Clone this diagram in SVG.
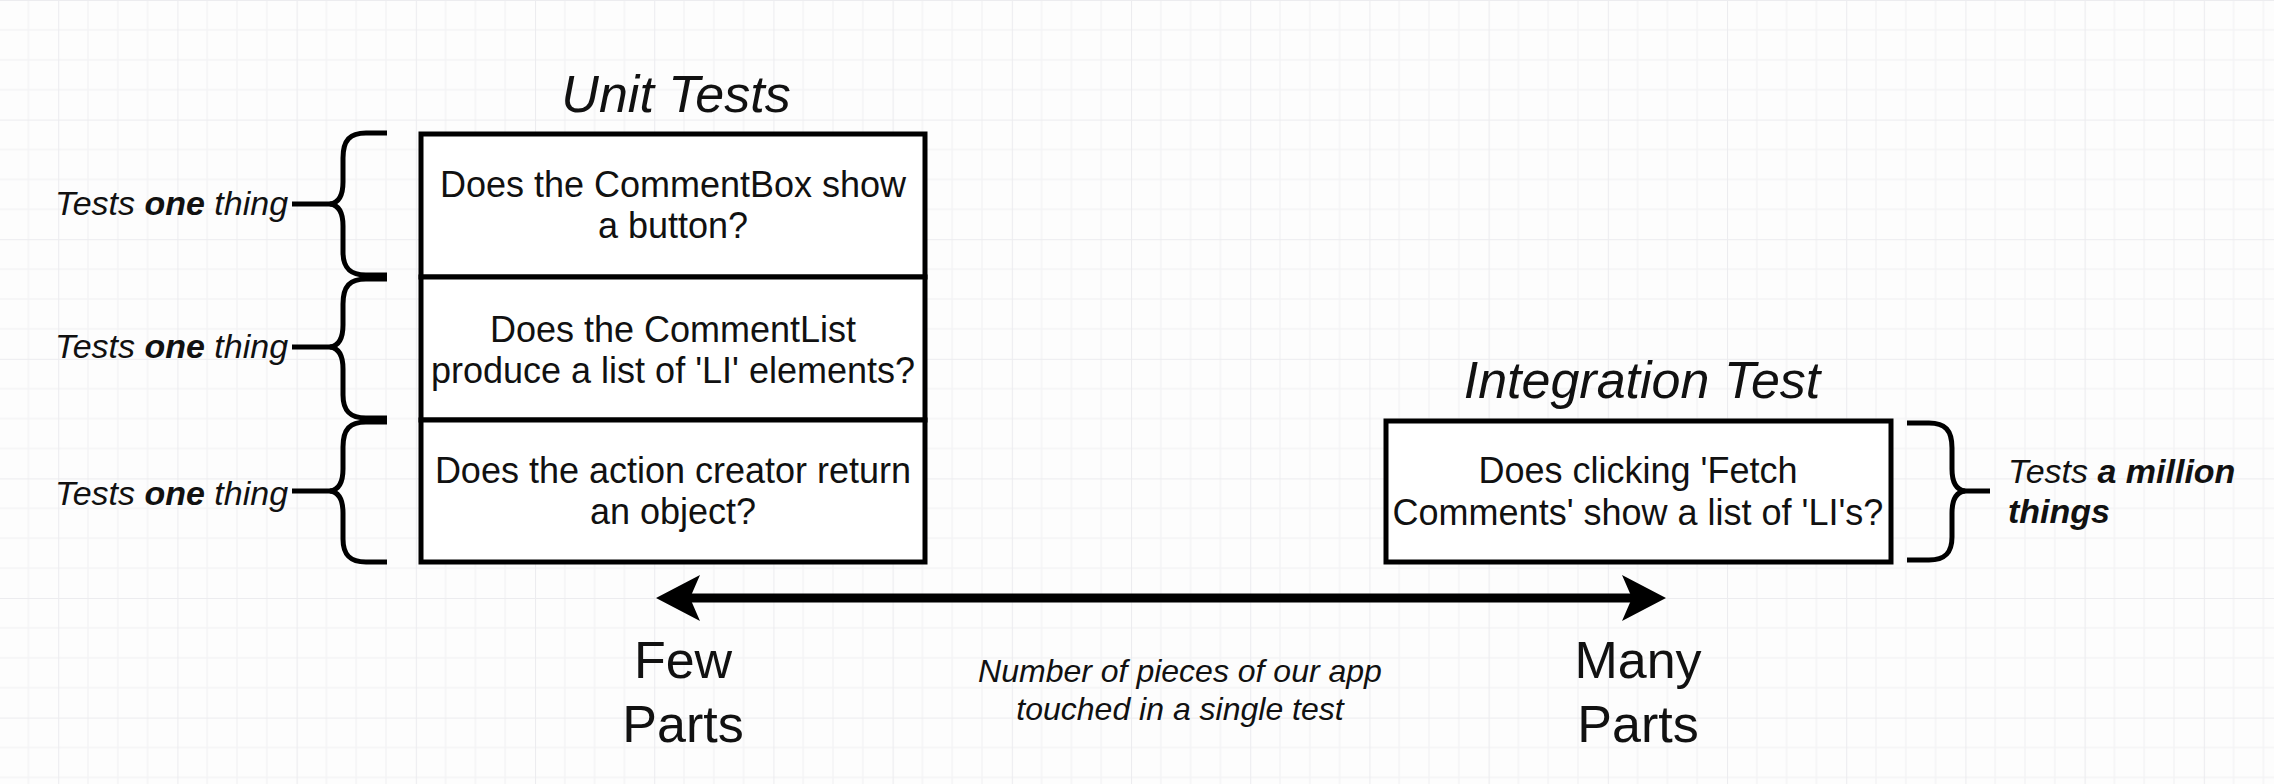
<svg xmlns="http://www.w3.org/2000/svg" width="2274" height="784" viewBox="0 0 2274 784">
<style>
  .t{font-family:"Liberation Sans",Arial,Helvetica,sans-serif;fill:#111}
  .cell{font-size:36px;text-anchor:middle}
  .title{font-size:52px;font-style:italic;text-anchor:middle}
  .side{font-size:34px;font-style:italic}
  .big{font-size:52px;text-anchor:middle}
  .note{font-size:32px;font-style:italic;text-anchor:middle}
  .box{fill:#fff;stroke:#000;stroke-width:5}
  .brace{fill:none;stroke:#000;stroke-width:5;stroke-linecap:butt}
</style>
<defs>
  <pattern id="grid" patternUnits="userSpaceOnUse" x="58.2" y="0" width="119.2" height="119.6">
    <rect width="119.2" height="119.6" fill="#fdfdfd"/>
    <g stroke="#f4f4f6" stroke-width="1.5">
      <line x1="29.8" y1="0" x2="29.8" y2="119.6"/>
      <line x1="59.6" y1="0" x2="59.6" y2="119.6"/>
      <line x1="89.4" y1="0" x2="89.4" y2="119.6"/>
      <line x1="0" y1="29.9" x2="119.2" y2="29.9"/>
      <line x1="0" y1="59.8" x2="119.2" y2="59.8"/>
      <line x1="0" y1="89.7" x2="119.2" y2="89.7"/>
    </g>
    <g stroke="#ececef" stroke-width="2">
      <line x1="0" y1="0" x2="0" y2="119.6"/>
      <line x1="0" y1="0" x2="119.2" y2="0"/>
    </g>
  </pattern>
  <marker id="head" markerUnits="userSpaceOnUse" markerWidth="50" markerHeight="50" viewBox="0 0 50 50" refX="10" refY="23" orient="auto-start-reverse">
    <path d="M0,0 L44,23 L0,46 L10,23 Z" fill="#000"/>
  </marker>
</defs>
<rect width="2274" height="784" fill="url(#grid)"/>

<g id="unit-title"><text class="t title" x="676" y="112">Unit Tests</text></g>

<g id="unit-box-1">
  <rect class="box" x="421" y="134" width="504" height="143"/>
  <text class="t cell" x="673" y="197">Does the CommentBox show</text>
  <text class="t cell" x="673" y="238">a button?</text>
</g>
<g id="unit-box-2">
  <rect class="box" x="421" y="277" width="504" height="143"/>
  <text class="t cell" x="673" y="342">Does the CommentList</text>
  <text class="t cell" x="673" y="383">produce a list of 'LI' elements?</text>
</g>
<g id="unit-box-3">
  <rect class="box" x="421" y="420" width="504" height="142"/>
  <text class="t cell" x="673" y="483">Does the action creator return</text>
  <text class="t cell" x="673" y="524">an object?</text>
</g>

<g id="brace-1">
  <path class="brace" d="M387,133 L366,133 C350,133 343,140 343,158 L343,182 C343,197 338,203 330,204 C338,205 343,211 343,226 L343,252 C343,268 350,275 366,275 L387,275"/>
  <line class="brace" x1="292" y1="204" x2="332" y2="204"/>
  <text class="t side" x="55" y="215">Tests <tspan font-weight="bold">one</tspan> thing</text>
</g>
<g id="brace-2">
  <path class="brace" d="M387,279 L366,279 C350,279 343,286 343,304 L343,325 C343,340 338,346 330,347 C338,348 343,354 343,369 L343,395 C343,411 350,418 366,418 L387,418"/>
  <line class="brace" x1="292" y1="347" x2="332" y2="347"/>
  <text class="t side" x="55" y="358">Tests <tspan font-weight="bold">one</tspan> thing</text>
</g>
<g id="brace-3">
  <path class="brace" d="M387,422 L366,422 C350,422 343,429 343,447 L343,469 C343,484 338,490 330,491 C338,492 343,498 343,513 L343,539 C343,555 350,562 366,562 L387,562"/>
  <line class="brace" x1="292" y1="491" x2="332" y2="491"/>
  <text class="t side" x="55" y="505">Tests <tspan font-weight="bold">one</tspan> thing</text>
</g>

<g id="integration-title"><text class="t title" x="1642" y="398">Integration Test</text></g>

<g id="integration-box">
  <rect class="box" x="1386" y="421" width="505" height="141"/>
  <text class="t cell" x="1638" y="483">Does clicking 'Fetch</text>
  <text class="t cell" x="1638" y="525">Comments' show a list of 'LI's?</text>
</g>

<g id="brace-right">
  <path class="brace" d="M1907,423 L1929,423 C1945,423 1952,430 1952,448 L1952,469 C1952,484 1957,490 1965,491 C1957,492 1952,498 1952,513 L1952,537 C1952,553 1945,560 1929,560 L1907,560"/>
  <line class="brace" x1="1963" y1="491" x2="1990" y2="491"/>
  <text class="t side" x="2008" y="483">Tests <tspan font-weight="bold">a million</tspan></text>
  <text class="t side" x="2008" y="523" font-weight="bold">things</text>
</g>

<g id="connectors">
  <line x1="690" y1="598" x2="1632" y2="598" stroke="#000" stroke-width="9" marker-start="url(#head)" marker-end="url(#head)"/>
</g>

<g id="few-parts">
  <text class="t big" x="683" y="678">Few</text>
  <text class="t big" x="683" y="742">Parts</text>
</g>
<g id="many-parts">
  <text class="t big" x="1638" y="678">Many</text>
  <text class="t big" x="1638" y="742">Parts</text>
</g>
<g id="axis-label">
  <text class="t note" x="1180" y="682">Number of pieces of our app</text>
  <text class="t note" x="1180" y="720">touched in a single test</text>
</g>
</svg>
